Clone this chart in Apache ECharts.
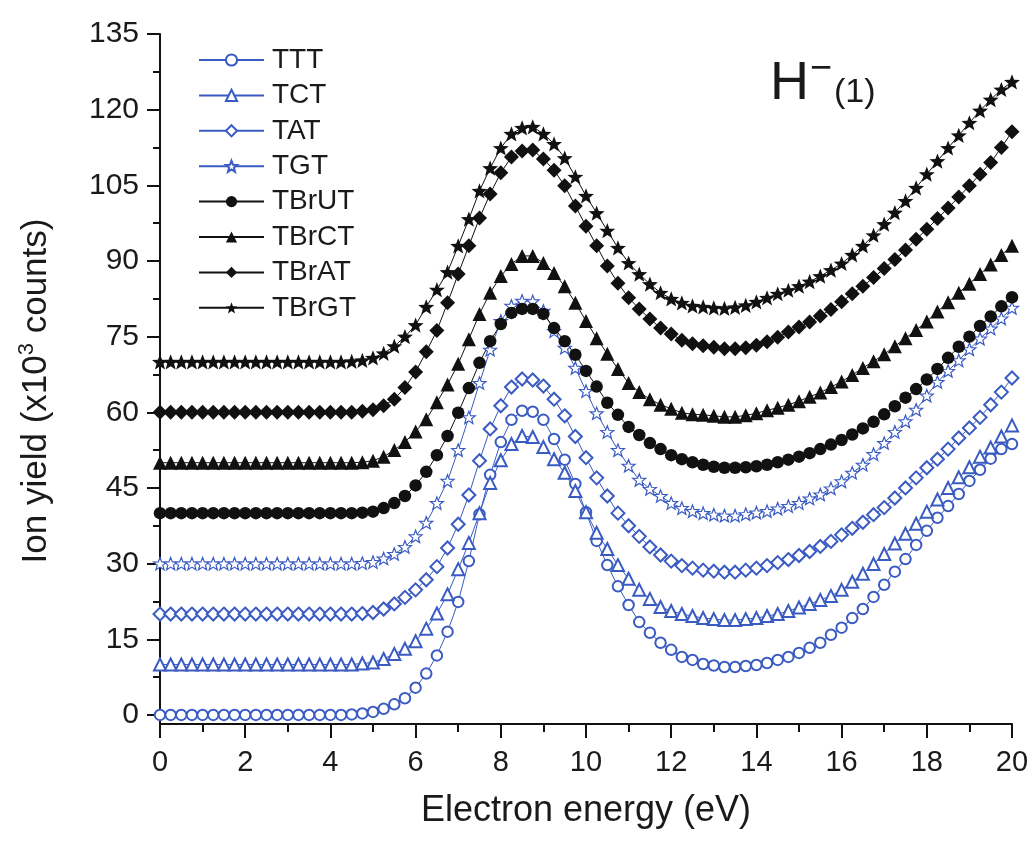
<!DOCTYPE html>
<html>
<head>
<meta charset="utf-8">
<script src="https://cdn.jsdelivr.net/npm/echarts@6/dist/echarts.min.js"></script>
<style>
  html, body { margin: 0; padding: 0; background: #fff; }
  #chart { width: 1034px; height: 842px; }
</style>
</head>
<body>
<div id="chart"></div>
<script>
// electron energy (eV), 0.25 eV steps
const energy = [
  0, 0.25, 0.5, 0.75, 1, 1.25, 1.5, 1.75, 2, 2.25, 2.5, 2.75, 3, 3.25, 3.5, 3.75,
  4, 4.25, 4.5, 4.75, 5, 5.25, 5.5, 5.75, 6, 6.25, 6.5, 6.75, 7, 7.25, 7.5, 7.75,
  8, 8.25, 8.5, 8.75, 9, 9.25, 9.5, 9.75, 10, 10.25, 10.5, 10.75, 11, 11.25, 11.5, 11.75,
  12, 12.25, 12.5, 12.75, 13, 13.25, 13.5, 13.75, 14, 14.25, 14.5, 14.75, 15, 15.25, 15.5, 15.75,
  16, 16.25, 16.5, 16.75, 17, 17.25, 17.5, 17.75, 18, 18.25, 18.5, 18.75, 19, 19.25, 19.5, 19.75, 20,
]

const TTT = [
  0, 0, 0, 0, 0, 0, 0, 0, 0, 0, 0, 0, 0, 0, 0, 0, 0, 0,
  0.1, 0.3, 0.6, 1.2, 2.1, 3.3, 5.4, 8.2, 11.8, 16.5, 22.4, 30.5, 39.8, 47.6,
  54.1, 58.5, 60.3, 60.1, 58.5, 54.7, 50.6, 45.8, 40.2, 34.5, 29.7, 25.5, 21.8, 18.4, 16.3, 14.3,
  12.9, 11.5, 10.9, 10.1, 9.8, 9.5, 9.5, 9.7, 9.9, 10.3, 10.9, 11.5, 12.3, 13.3, 14.3, 15.9,
  17.3, 19.2, 21.0, 23.4, 25.8, 28.4, 30.9, 33.7, 36.5, 39.1, 41.4, 43.8, 46.4, 48.6, 50.8, 52.7, 53.7,
]
const TCT = [
  10, 10, 10, 10, 10, 10, 10, 10, 10, 10, 10, 10, 10, 10, 10, 10, 10, 10, 10,
  10.2, 10.4, 11.1, 12.1, 13.1, 14.6, 17.1, 20.1, 23.9, 28.9, 34.1, 40.0, 46.0,
  50.5, 53.7, 55.3, 55.1, 53.1, 50.7, 48.0, 44.4, 40.2, 36.1, 32.9, 29.7, 27.0, 24.8, 23.0, 21.4,
  20.6, 20.0, 19.6, 19.2, 19.0, 18.8, 18.8, 19.0, 19.2, 19.6, 20.0, 20.6, 21.3, 22.0, 22.8, 23.6,
  24.8, 26.4, 28.0, 29.9, 31.9, 34.0, 35.9, 37.9, 40.3, 42.7, 45.0, 47.1, 49.1, 51.2, 53.0, 55.2, 57.4,
]
const TAT = [
  20, 20, 20, 20, 20, 20, 20, 20, 20, 20, 20, 20, 20, 20, 20, 20, 20, 20, 20,
  20.1, 20.3, 21.0, 22.0, 23.3, 24.8, 26.8, 29.4, 33.1, 37.8, 43.6, 50.4, 56.7,
  61.3, 65.0, 66.6, 66.4, 65.2, 62.6, 59.3, 55.2, 51.0, 47.0, 43.4, 40.0, 37.5, 35.4, 33.3, 31.7,
  30.5, 29.6, 29.1, 28.7, 28.5, 28.3, 28.3, 28.7, 29.1, 29.6, 30.2, 30.8, 31.6, 32.4, 33.4, 34.4,
  35.7, 37.0, 38.2, 39.7, 41.1, 43.0, 45.0, 47.0, 49.0, 50.7, 52.7, 54.9, 56.9, 59.0, 61.5, 64.0, 66.8,
]
const TGT = [
  30, 30, 30, 30, 30, 30, 30, 30, 30, 30, 30, 30, 30, 30, 30, 30, 30, 30, 30,
  30.1, 30.3, 31.0, 31.9, 33.3, 35.4, 38.1, 42.0, 46.4, 52.5, 59.0, 65.8, 72.4,
  78.1, 81.1, 82.1, 82.0, 80.1, 76.1, 72.8, 68.8, 64.2, 59.8, 56.1, 52.5, 49.4, 46.6, 44.8, 43.4,
  42.0, 41.0, 40.4, 40.0, 39.7, 39.5, 39.5, 39.8, 40.1, 40.4, 40.9, 41.4, 42.0, 42.9, 43.7, 44.9,
  46.3, 48.0, 49.6, 51.7, 53.9, 56.1, 58.2, 60.5, 63.3, 66.0, 68.2, 70.3, 72.5, 74.6, 76.6, 78.6, 80.7,
]
const TBrUT = [
  40, 40, 40, 40, 40, 40, 40, 40, 40, 40, 40, 40, 40, 40, 40, 40, 40, 40, 40,
  40.1, 40.3, 41.0, 42.0, 43.4, 45.5, 48.2, 51.5, 55.3, 59.9, 64.8, 69.8, 74.1,
  77.5, 79.7, 80.5, 80.5, 79.5, 76.7, 74.1, 71.4, 68.2, 65.1, 61.9, 59.5, 57.1, 55.5, 53.9, 52.7,
  51.5, 50.7, 50.1, 49.6, 49.2, 49.0, 49.0, 49.1, 49.3, 49.6, 50.1, 50.6, 51.2, 51.9, 52.7, 53.6,
  54.5, 55.6, 56.8, 58.1, 59.6, 61.2, 62.9, 64.6, 66.5, 68.6, 70.8, 73.0, 75.0, 77.1, 79.0, 81.0, 82.8,
]
const TBrCT = [
  50, 50, 50, 50, 50, 50, 50, 50, 50, 50, 50, 50, 50, 50, 50, 50, 50, 50, 50,
  50.1, 50.4, 51.2, 52.5, 54.1, 56.2, 58.6, 62.0, 65.5, 69.6, 74.5, 79.5, 83.7,
  87.0, 89.4, 91.0, 91.0, 89.6, 87.6, 85.0, 81.7, 78.1, 74.7, 71.6, 68.6, 65.8, 64.0, 62.6, 61.5,
  60.7, 59.9, 59.6, 59.5, 59.3, 59.1, 59.1, 59.4, 59.8, 60.4, 60.9, 61.5, 62.2, 63.1, 63.9, 65.0,
  66.1, 67.4, 68.8, 70.1, 71.5, 73.1, 74.7, 76.3, 78.0, 80.0, 81.8, 83.7, 85.5, 87.4, 89.3, 91.2, 93.0,
]
const TBrAT = [
  60, 60, 60, 60, 60, 60, 60, 60, 60, 60, 60, 60, 60, 60, 60, 60, 60, 60, 60,
  60.2, 60.5, 61.3, 62.6, 64.9, 68.0, 72.0, 76.2, 81.7, 87.4, 93.0, 98.5, 103.3,
  107.5, 110.6, 111.8, 112.0, 110.2, 108.0, 104.9, 100.9, 96.9, 93.0, 89.0, 85.6, 82.7, 80.5, 78.5, 76.7,
  75.5, 74.3, 73.6, 73.2, 72.9, 72.6, 72.6, 72.8, 73.3, 74.0, 74.9, 75.9, 76.9, 77.9, 79.1, 80.4,
  81.9, 83.5, 85.0, 86.7, 88.5, 90.3, 92.2, 94.3, 96.3, 98.4, 100.5, 102.7, 104.9, 107.2, 109.5, 112.5, 115.6,
]
const TBrGT = [
  70, 70, 70, 70, 70, 70, 70, 70, 70, 70, 70, 70, 70, 70, 70, 70, 70, 70,
  70.1, 70.3, 70.8, 71.7, 73.1, 75.0, 77.3, 80.9, 84.3, 87.8, 93.0, 98.3, 103.9, 108.4,
  112.4, 115.2, 116.4, 116.6, 115.2, 113.2, 110.4, 106.7, 102.9, 99.5, 96.0, 92.6, 89.6, 87.4, 85.4, 83.7,
  82.5, 81.7, 81.1, 80.9, 80.7, 80.6, 80.8, 81.2, 81.9, 82.7, 83.5, 84.2, 85.0, 85.9, 87.0, 88.2,
  89.5, 91.2, 93.0, 95.1, 97.3, 99.6, 101.9, 104.5, 107.2, 109.8, 112.4, 114.9, 117.4, 119.8, 122.0, 124.0, 125.5,
]

const yTicks = [0, 15, 30, 45, 60, 75, 90, 105, 120, 135]
const yMinorTicks = [7.5, 22.5, 37.5, 52.5, 67.5, 82.5, 97.5, 112.5, 127.5]

const BLUE = '#3a5bc2'
const BLACK = '#111'
const FONT = '"Liberation Sans", Arial, Helvetica, sans-serif'
const STAR = 'path://M12,1 L14.9,8.6 L23,8.9 L16.7,14 L18.9,21.9 L12,17.4 L5.1,21.9 L7.3,14 L1,8.9 L9.1,8.6 Z'

const pairs = (vals) => energy.map((x, i) => [x, vals[i]])

const makeSeries = (name, vals, color, symbol, size, hollow) => ({
  name,
  type: 'line',
  data: pairs(vals),
  symbol,
  symbolSize: size,
  symbolKeepAspect: true,
  showAllSymbol: true,
  lineStyle: { color, width: 1 },
  itemStyle: hollow
    ? (symbol === STAR
        ? { color: '#fff', borderColor: color, borderWidth: 1.2 }
        : { color, borderWidth: 1.2 })
    : { color, borderWidth: 0 },
  emphasis: { disabled: true },
})

const chart = echarts.init(document.getElementById('chart'))

chart.setOption({
  animation: false,
  backgroundColor: '#fff',
  grid: { left: 160, right: 22, top: 34, bottom: 118 },
  legend: {
    orient: 'vertical',
    left: 193,
    top: 41,
    itemWidth: 65,
    itemHeight: 14,
    itemGap: 7.4,
    textStyle: { fontFamily: FONT, fontSize: 28, lineHeight: 28, color: '#1a1a1a', padding: [0, 0, 0, 3] },
    data: ['TTT', 'TCT', 'TAT', 'TGT', 'TBrUT', 'TBrCT', 'TBrAT', 'TBrGT'],
  },
  xAxis: {
    type: 'value',
    min: 0,
    max: 20,
    interval: 2,
    name: 'Electron energy (eV)',
    nameLocation: 'middle',
    nameGap: 69,
    nameTextStyle: { fontFamily: FONT, fontSize: 36, color: '#1a1a1a' },
    axisLine: { onZero: false, lineStyle: { color: BLACK, width: 2 } },
    axisTick: { length: 14, lineStyle: { color: BLACK, width: 2 } },
    minorTick: { show: true, splitNumber: 2, length: 8, lineStyle: { color: BLACK, width: 2 } },
    axisLabel: { fontFamily: FONT, fontSize: 29, color: '#1a1a1a', margin: 24 },
    splitLine: { show: false },
  },
  yAxis: [
    {
      type: 'value',
      min: -1.8,
      max: 135,
      name: 'Ion yield (x10{sup|3} counts)',
      nameLocation: 'middle',
      nameGap: 104,
      nameRotate: 90,
      nameTextStyle: {
        fontFamily: FONT,
        fontSize: 35,
        color: '#1a1a1a',
        padding: [0, 24, 0, 0],
        rich: {
          sup: { fontFamily: FONT, fontSize: 22, verticalAlign: 'top', lineHeight: 40, color: '#1a1a1a' },
        },
      },
      axisLine: { lineStyle: { color: BLACK, width: 2 } },
      axisTick: { customValues: yTicks, length: 13, lineStyle: { color: BLACK, width: 2 } },
      axisLabel: { customValues: yTicks, fontFamily: FONT, fontSize: 30, color: '#1a1a1a', margin: 21 },
      splitLine: { show: false },
    },
    {
      type: 'value',
      min: -1.8,
      max: 135,
      position: 'left',
      axisLine: { show: false },
      axisTick: { customValues: yMinorTicks, length: 7, lineStyle: { color: BLACK, width: 2 } },
      axisLabel: { show: false },
      splitLine: { show: false },
    },
  ],
  series: [
    makeSeries('TTT', TTT, BLUE, 'emptyCircle', 10.5, true),
    makeSeries('TCT', TCT, BLUE, 'emptyTriangle', 12, true),
    makeSeries('TAT', TAT, BLUE, 'emptyDiamond', 13, true),
    makeSeries('TGT', TGT, BLUE, STAR, 13, true),
    makeSeries('TBrUT', TBrUT, BLACK, 'circle', 12.5, false),
    makeSeries('TBrCT', TBrCT, BLACK, 'triangle', 14, false),
    makeSeries('TBrAT', TBrAT, BLACK, 'diamond', 15, false),
    makeSeries('TBrGT', TBrGT, BLACK, STAR, 16, false),
  ],
  graphic: [
    { type: 'text', left: 770, top: 57, style: { text: 'H', fontFamily: FONT, fontSize: 54, fill: '#1a1a1a' } },
    { type: 'text', left: 810, top: 51, style: { text: '\u2212', fontFamily: FONT, fontSize: 38, fill: '#1a1a1a' } },
    { type: 'text', left: 834, top: 76, style: { text: '(1)', fontFamily: FONT, fontSize: 34, fill: '#1a1a1a' } },
  ],
})
</script>
</body>
</html>
